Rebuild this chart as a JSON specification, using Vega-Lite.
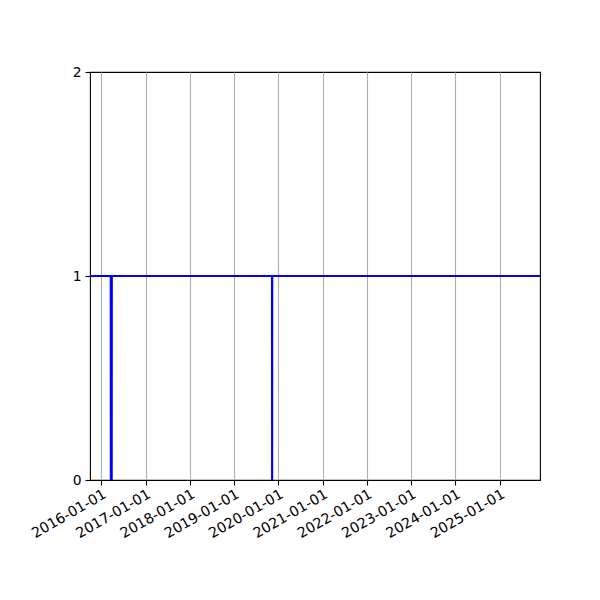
{
  "$schema": "https://vega.github.io/schema/vega-lite/v6.json",
  "autosize": {"type": "none"},
  "padding": {"left": 90, "top": 72, "right": 60, "bottom": 120},
  "width": 450,
  "height": 408,
  "background": "white",
  "data": {
    "values": [
      {"date": "2015-09-01", "value": 1},
      {"date": "2016-03-20", "value": 1},
      {"date": "2016-03-21", "value": 0},
      {"date": "2016-03-28", "value": 0},
      {"date": "2016-03-29", "value": 1},
      {"date": "2019-11-10", "value": 1},
      {"date": "2019-11-11", "value": 0},
      {"date": "2019-11-12", "value": 1},
      {"date": "2026-06-01", "value": 1}
    ]
  },
  "mark": {"type": "line", "color": "#0000ff", "strokeWidth": 2.1, "clip": true, "strokeCap": "square", "strokeJoin": "round"},
  "encoding": {
    "x": {
      "field": "date",
      "type": "temporal",
      "scale": {
        "type": "utc",
        "domain": [
          {"year": 2015, "month": 10, "date": 1, "utc": true},
          {"year": 2025, "month": 11, "date": 28, "utc": true}
        ]
      },
      "axis": {
        "title": null,
        "format": "%Y-%m-%d",
        "values": [
          {"year": 2016, "month": 1, "date": 1, "utc": true},
          {"year": 2017, "month": 1, "date": 1, "utc": true},
          {"year": 2018, "month": 1, "date": 1, "utc": true},
          {"year": 2019, "month": 1, "date": 1, "utc": true},
          {"year": 2020, "month": 1, "date": 1, "utc": true},
          {"year": 2021, "month": 1, "date": 1, "utc": true},
          {"year": 2022, "month": 1, "date": 1, "utc": true},
          {"year": 2023, "month": 1, "date": 1, "utc": true},
          {"year": 2024, "month": 1, "date": 1, "utc": true},
          {"year": 2025, "month": 1, "date": 1, "utc": true}
        ],
        "grid": true,
        "gridColor": "#b0b0b0",
        "gridWidth": 1.1,
        "labelAngle": -30,
        "labelAlign": "right",
        "labelBaseline": "top",
        "labelPadding": 2,
        "labelFontSize": 14.3,
        "labelDx": -4,
        "labelDy": 4
      }
    },
    "y": {
      "field": "value",
      "type": "quantitative",
      "scale": {"domain": [0, 2], "nice": false, "zero": true},
      "axis": {
        "title": null,
        "values": [0, 1, 2],
        "labelExpr": "format(datum.value, 'd')",
        "grid": false,
        "labelPadding": 4
      }
    }
  },
  "config": {
    "view": {"stroke": "black", "strokeWidth": 1.1},
    "axis": {
      "domain": false,
      "ticks": true,
      "tickColor": "black",
      "tickSize": 5,
      "tickWidth": 1.1,
      "labelFont": "DejaVu Sans",
      "labelFontSize": 13.9,
      "labelColor": "black",
      "labelOverlap": false,
      "labelFlush": false
    }
  }
}
